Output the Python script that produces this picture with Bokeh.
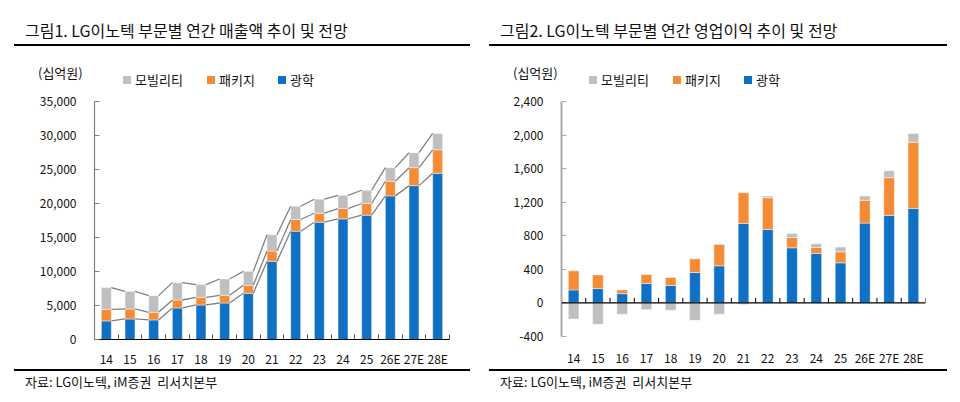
from bokeh.embed import file_html
from bokeh.layouts import column, row
from bokeh.models import (ColumnDataSource, Div, FixedTicker, NumeralTickFormatter,
                          Range1d, Span)
from bokeh.plotting import figure
from bokeh.resources import INLINE

FONT = "Noto Sans CJK KR"
BLUE = "#0F70C4"
ORANGE = "#F68B36"
GRAY = "#BFBFBF"

# categories
years = ["14", "15", "16", "17", "18", "19", "20", "21", "22", "23", "24", "25",
         "26E", "27E", "28E"]

# annual sales by segment (KRW bn)
sales_optical = [2730, 3020, 2880, 4640, 5080, 5370, 6790, 11490, 15930, 17250,
                 17740, 18280, 21120, 22630, 24440]
sales_package = [1710, 1470, 1120, 1170, 1120, 1130, 1180, 1510, 1720, 1320,
                 1520, 1720, 2150, 2640, 3460]
sales_mobility = [3190, 2590, 2450, 2550, 1870, 2400, 2050, 2400, 1950, 2060,
                  1940, 1950, 2000, 2200, 2400]

# annual operating profit by segment (KRW bn)
op_optical = [155, 171, 111, 231, 207, 362, 442, 947, 875, 657, 589, 478, 951,
              1043, 1126]
op_package = [227, 163, 44, 107, 96, 163, 255, 366, 379, 123, 72, 131, 271,
              450, 788]
op_mobility = [-191, -255, -135, -80, -88, -207, -135, -20, 20, 48, 44, 56, 52,
               83, 104]

sales_ticks = [0, 5000, 10000, 15000, 20000, 25000, 30000, 35000]
op_ticks = [-400, 0, 400, 800, 1200, 1600, 2000, 2400]

legend_items = [("모빌리티", GRAY), ("패키지", ORANGE), ("광학", BLUE)]
source_note = "자료: LG이노텍, iM증권&nbsp; 리서치본부"

idx = list(range(len(years)))
bounds = [i - 0.5 for i in range(len(years) + 1)]
BAR_W = 0.42
PANEL_W = 479


def abs_text(left, top, text, size, extra=""):
    return (f'<div style="position:absolute;left:{left}px;top:{top}px;'
            f'font-size:{size}px;line-height:{size}px;white-space:nowrap;'
            f'color:#111;{extra}">{text}</div>')


def header(title, text_x, rule_x0, rule_x1, legend_x):
    parts = [abs_text(text_x, 22, title, 16),
             f'<div style="position:absolute;left:{rule_x0}px;top:44px;'
             f'width:{rule_x1 - rule_x0}px;height:1.5px;background:#000"></div>',
             abs_text(text_x + 13, 66, "(십억원)", 13)]
    for (label, color), x in zip(legend_items, legend_x):
        parts.append(f'<div style="position:absolute;left:{x}px;top:76px;'
                     f'width:8px;height:8px;background:{color}"></div>')
        parts.append(abs_text(x + 12, 73, label, 13))
    html = (f'<div style="position:relative;width:{PANEL_W}px;height:93px;'
            f'font-family:\'{FONT}\'">' + "".join(parts) + "</div>")
    return Div(text=html, width=PANEL_W, height=93, margin=(0, 0, 0, 0))


def footer(text_x, rule_x0, rule_x1):
    html = (f'<div style="position:relative;width:{PANEL_W}px;height:31px;'
            f'font-family:\'{FONT}\'">'
            f'<div style="position:absolute;left:{rule_x0}px;top:0px;'
            f'width:{rule_x1 - rule_x0}px;height:1.5px;background:#000"></div>'
            + abs_text(text_x, 5.5, source_note, 13) + "</div>")
    return Div(text=html, width=PANEL_W, height=31, margin=(0, 0, 0, 0))


def make_plot(y_range, y_ticks, borders, axis_color, axis_width):
    left, right, top, bottom = borders
    p = figure(width=PANEL_W, height=276, output_backend="svg",
               toolbar_location=None,
               x_range=Range1d(-0.5, len(years) - 0.5), y_range=Range1d(*y_range),
               min_border_left=left, min_border_right=right,
               min_border_top=top, min_border_bottom=bottom)
    p.outline_line_color = None
    p.grid.visible = False

    p.yaxis.ticker = FixedTicker(ticks=y_ticks)
    p.yaxis.formatter = NumeralTickFormatter(format="0,0")
    p.yaxis.axis_line_color = axis_color
    p.yaxis.axis_line_width = axis_width
    p.yaxis.major_tick_line_color = axis_color
    p.yaxis.major_tick_in = 5
    p.yaxis.major_tick_out = 0
    p.yaxis.minor_tick_line_color = None
    p.yaxis.major_label_standoff = 18

    p.xaxis.ticker = FixedTicker(ticks=idx, minor_ticks=bounds)
    p.xaxis.major_label_overrides = {i: y for i, y in zip(idx, years)}
    p.xaxis.major_tick_line_color = None
    p.xaxis.major_tick_in = 0
    p.xaxis.major_tick_out = 0
    p.xaxis.minor_tick_in = 5
    p.xaxis.minor_tick_out = 0

    p.axis.major_label_text_font = FONT
    p.axis.major_label_text_font_size = "12px"
    p.axis.major_label_text_color = "#111111"
    return p


# left: sales
p1 = make_plot((0, 35000), sales_ticks, (94, 30, 8, 30), "#7F7F7F", 1.2)
p1.xaxis.axis_line_color = "#000000"
p1.xaxis.minor_tick_line_color = "#555555"
p1.xaxis.major_label_standoff = 10

src1 = ColumnDataSource(dict(x=idx, optical=sales_optical, package=sales_package,
                             mobility=sales_mobility))
p1.vbar_stack(["optical", "package", "mobility"], x="x", width=BAR_W,
              color=[BLUE, ORANGE, GRAY], line_color="white", line_alpha=0.45,
              line_width=1, source=src1)

# series lines linking the stack levels of neighbouring bars
lvl1 = sales_optical
lvl2 = [a + b for a, b in zip(sales_optical, sales_package)]
lvl3 = [a + b for a, b in zip(lvl2, sales_mobility)]
for lvl in (lvl1, lvl2, lvl3):
    p1.segment(x0=[i + BAR_W / 2 for i in idx[:-1]], y0=lvl[:-1],
               x1=[i + 1 - BAR_W / 2 for i in idx[:-1]], y1=lvl[1:],
               line_color="#808080", line_width=1.3)

# right: operating profit
p2 = make_plot((-400, 2400), op_ticks, (82, 33, 8, 33), "#ABABAB", 2)
p2.xaxis.axis_line_color = None
p2.xaxis.minor_tick_line_color = None
p2.xaxis.major_label_standoff = 12

pos_top2 = [a + b for a, b in zip(op_optical, op_package)]
gray_bottom = [t if m >= 0 else m for t, m in zip(pos_top2, op_mobility)]
gray_top = [t + m if m >= 0 else 0 for t, m in zip(pos_top2, op_mobility)]
src2 = ColumnDataSource(dict(x=idx, zero=[0] * len(idx), optical=op_optical,
                             pkg_top=pos_top2, gray_bottom=gray_bottom,
                             gray_top=gray_top))
bar_style = dict(width=BAR_W + 0.02, line_color="white", line_alpha=0.45,
                 line_width=1, source=src2)
p2.vbar(x="x", bottom="zero", top="optical", color=BLUE, **bar_style)
p2.vbar(x="x", bottom="optical", top="pkg_top", color=ORANGE, **bar_style)
p2.vbar(x="x", bottom="gray_bottom", top="gray_top", color=GRAY, **bar_style)

p2.add_layout(Span(location=0, dimension="width", line_color="#000000",
                   line_width=1.2))
tick_len = 5 * (op_ticks[-1] - op_ticks[0]) / 235
p2.segment(x0=bounds, y0=[0] * len(bounds), x1=bounds,
           y1=[tick_len] * len(bounds), line_color="#000000", line_width=1)

left_panel = column(
    header("그림1. LG이노텍 부문별 연간 매출액 추이 및 전망", 25, 14, 470,
           [123, 207, 278]),
    p1,
    footer(25, 14, 470))
right_panel = column(
    header("그림2. LG이노텍 부문별 연간 영업이익 추이 및 전망", 21, 10, 468,
           [110, 194, 265]),
    p2,
    footer(21, 10, 468))

layout = row(left_panel, right_panel)
open("out.html", "w").write(file_html(layout, INLINE))
